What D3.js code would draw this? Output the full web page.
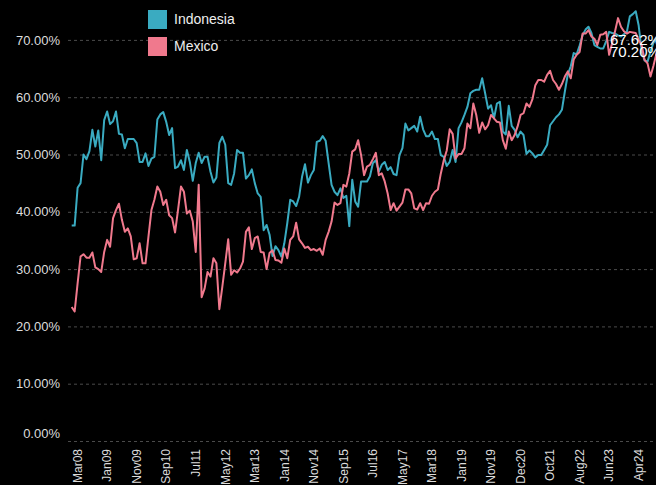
<!DOCTYPE html>
<html>
<head>
<meta charset="utf-8">
<script src="https://cdn.jsdelivr.net/npm/d3@7"></script>
<style>
  body { margin: 0; background: #000; }
  #chart { width: 656px; height: 485px; overflow: hidden; }
</style>
</head>
<body>
<div id="chart"></div>
<script>
// monthly shares, Mar08 onwards (one value per month shown on the axis)
const seriesNames = ['Indonesia', 'Mexico'];
const seriesColors = ['#3aabc1', '#f0798d'];

const indonesia = [
  37.6, 37.6, 44.2, 45.0, 50.0, 49.2, 50.6, 54.3, 51.4, 54.2,
  49.0, 56.0, 57.5, 55.3, 55.8, 57.5, 53.6, 53.5, 51.1, 52.7,
  52.7, 52.7, 52.0, 48.7, 48.7, 50.2, 48.0, 49.3, 49.6, 56.1,
  57.0, 57.4, 55.7, 53.4, 54.6, 47.6, 47.9, 49.0, 47.3, 50.8,
  48.7, 45.4, 48.5, 50.3, 48.5, 49.6, 49.6, 47.0, 45.1, 46.0,
  52.0, 53.1, 51.7, 45.0, 44.7, 46.7, 50.8, 50.3, 50.3, 45.8,
  46.4, 47.4, 45.0, 43.2, 42.6, 36.8, 37.7, 36.0, 32.3, 34.0,
  33.3, 32.2, 34.5, 38.0, 42.1, 41.8, 41.0, 42.6, 46.1, 48.3,
  45.1, 46.4, 47.3, 52.2, 52.4, 53.2, 52.4, 48.5, 44.7, 43.5,
  42.9, 44.1, 42.4, 42.8, 37.5, 45.6, 41.8, 40.9, 45.3, 45.3,
  45.3, 46.2, 48.5, 49.0, 47.0, 48.2, 48.7, 47.3, 47.8, 46.6,
  46.4, 49.9, 51.1, 55.4, 54.2, 54.6, 55.0, 54.0, 56.6, 54.4,
  53.2, 53.2, 54.0, 52.7, 52.7, 49.9, 49.6, 48.0, 48.7, 50.8,
  48.7, 54.6, 55.6, 56.9, 58.3, 60.7, 61.1, 61.3, 61.3, 63.3,
  60.7, 58.0, 58.6, 56.3, 58.9, 59.2, 54.0, 53.5, 58.5, 55.0,
  54.3, 53.0, 54.0, 53.4, 50.1, 50.7, 50.2, 49.5, 49.9, 49.9,
  50.8, 51.7, 55.1, 55.8, 56.5, 57.0, 57.8, 61.0, 64.0, 65.4,
  67.7, 67.5, 69.0, 70.8, 71.8, 72.3, 71.2, 69.1, 68.8, 68.5,
  68.5, 69.8, 71.4, 71.2, 71.1, 70.8, 70.6, 71.0, 71.4, 74.1,
  74.5, 75.0, 72.5, 68.0, 66.4, 66.2, 68.0, 69.5, 70.2
];

const mexico = [
  23.4, 22.6, 27.5, 32.2, 32.6, 32.0, 32.0, 32.9, 30.3, 30.0,
  29.5, 33.0, 35.1, 33.9, 38.9, 40.3, 41.4, 38.6, 36.5, 37.1,
  35.7, 31.7, 31.9, 34.5, 31.0, 31.0, 35.7, 40.3, 42.1, 44.4,
  43.5, 41.2, 42.1, 39.4, 38.9, 36.4, 40.3, 44.4, 43.5, 39.7,
  40.2, 38.3, 33.0, 44.7, 25.1, 26.6, 29.5, 28.7, 31.9, 31.0,
  23.0, 26.9, 31.0, 35.2, 29.0, 29.8, 29.4, 30.1, 31.3, 36.5,
  37.3, 33.5, 35.4, 35.7, 33.0, 32.9, 30.0, 32.8, 33.3, 31.6,
  31.5, 31.1, 33.6, 31.9, 35.1, 35.7, 38.1, 35.2, 34.5, 33.7,
  33.9, 33.3, 33.5, 33.2, 33.6, 32.5, 35.1, 36.5, 38.3, 41.6,
  41.2, 41.5, 44.7, 44.4, 46.7, 50.5, 50.9, 52.5, 49.9, 46.4,
  47.9, 48.2, 49.2, 50.3, 46.4, 46.7, 45.3, 43.2, 40.3, 41.5,
  40.2, 40.9, 41.6, 43.9, 43.9, 43.2, 40.6, 40.4, 41.5, 40.3,
  41.5, 41.4, 42.8, 43.5, 43.9, 46.7, 49.0, 50.7, 54.4, 53.6,
  49.3, 50.1, 50.1, 51.1, 55.4, 54.6, 58.9, 56.9, 53.8, 55.6,
  54.4, 55.1, 56.9, 56.3, 55.7, 55.6, 52.5, 51.0, 54.0, 52.5,
  53.4, 54.9, 56.9, 57.2, 58.9, 58.3, 59.6, 62.1, 63.0, 63.0,
  62.7, 63.9, 64.6, 63.0, 62.3, 61.3, 62.3, 63.6, 64.5, 63.3,
  66.6, 67.4, 67.9, 71.1, 71.1, 71.7, 70.6, 70.2, 69.1, 70.9,
  71.0, 71.4, 67.4, 69.4, 71.5, 73.8, 72.3, 71.5, 71.1, 71.4,
  71.3, 71.2, 70.0, 69.1, 66.5, 65.9, 63.6, 65.5, 67.6
];

// one label every 10 points
const xTickLabels = ['Mar08', 'Jan09', 'Nov09', 'Sep10', 'Jul11', 'May12', 'Mar13', 'Jan14', 'Nov14', 'Sep15',
  'Jul16', 'May17', 'Mar18', 'Jan19', 'Nov19', 'Dec20', 'Oct21', 'Aug22', 'Jun23', 'Apr24'];
const yTicks = [0, 10, 20, 30, 40, 50, 60, 70];
const endLabels = [67.62, 70.20];

const width = 656;
const height = 485;
const font = '"Liberation Sans", Arial, sans-serif';

const svg = d3.select('#chart')
  .append('svg')
  .attr('width', width)
  .attr('height', height)
  .style('background', '#000');

const x = d3.scaleLinear().domain([0, indonesia.length - 1]).range([71.7, 656.4]);
const y = d3.scaleLinear().domain([0, 70]).range([441, 39.9]);

// gridlines + y labels
const yAxis = d3.axisLeft(y)
  .tickValues(yTicks)
  .tickSize(-(width - 68))
  .tickPadding(8)
  .tickFormat(d => d3.format('.2f')(d) + '%');

const yg = svg.append('g')
  .attr('transform', 'translate(68,0)')
  .call(yAxis);
yg.select('.domain').remove();
yg.selectAll('.tick line')
  .attr('stroke', '#4a4a4a')
  .attr('stroke-dasharray', '3,3');
yg.selectAll('.tick text')
  .attr('fill', '#dcdcdc')
  .attr('font-family', font)
  .attr('font-size', 13)
  .attr('dy', d => (d === 0 ? '-0.3em' : '0.32em'));

// x labels, rotated
const xAxis = d3.axisBottom(x)
  .tickValues(xTickLabels.map((d, i) => i * 10))
  .tickSize(0)
  .tickFormat((d, i) => xTickLabels[i]);

const xg = svg.append('g')
  .attr('transform', 'translate(5.5,449)')
  .call(xAxis);
xg.select('.domain').remove();
xg.selectAll('.tick text')
  .attr('fill', '#dcdcdc')
  .attr('font-family', font)
  .attr('font-size', 12)
  .attr('text-anchor', 'end')
  .attr('transform', 'rotate(-90)')
  .attr('x', 0)
  .attr('y', 0)
  .attr('dy', '0.35em');

// lines
const line = d3.line()
  .x((d, i) => x(i))
  .y(d => y(d));

[indonesia, mexico].forEach((values, k) => {
  svg.append('path')
    .datum(values)
    .attr('fill', 'none')
    .attr('stroke', seriesColors[k])
    .attr('stroke-width', 2)
    .attr('stroke-linejoin', 'round')
    .attr('d', line);
});

// legend
const legend = svg.append('g').attr('transform', 'translate(148,10)');
seriesNames.forEach((name, i) => {
  const row = legend.append('g').attr('transform', 'translate(0,' + i * 27 + ')');
  row.append('rect')
    .attr('width', 19)
    .attr('height', 19)
    .attr('fill', seriesColors[i]);
  row.append('text')
    .attr('x', 26)
    .attr('y', 9.5)
    .attr('dy', '0.35em')
    .attr('fill', '#eeeeee')
    .attr('font-family', font)
    .attr('font-size', 14)
    .text(name);
});

// last-value labels at the right edge
svg.selectAll('.end-label')
  .data(endLabels)
  .enter()
  .append('text')
  .attr('class', 'end-label')
  .attr('x', 610)
  .attr('y', (d, i) => 40 + i * 11.5)
  .attr('dy', '0.35em')
  .attr('fill', '#ffffff')
  .attr('font-family', font)
  .attr('font-size', 15)
  .text(d => d.toFixed(2) + '%');
</script>
</body>
</html>
